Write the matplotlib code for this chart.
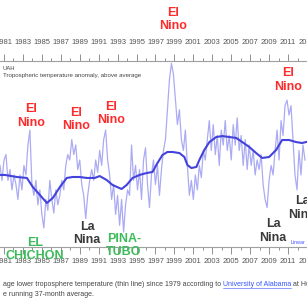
import numpy as np
import matplotlib
matplotlib.use("Agg")
import matplotlib.pyplot as plt

W, H = 307, 302

t_start = 1980.58
t_step = 0.2105
monthly = [
    -0.04, -0.15, 0.00, 0.04, -0.15, -0.07, -0.22, -0.11, -0.18, -0.29,
    -0.11, -0.22, -0.04, -0.11, 0.11, 0.22, -0.18, -0.26, -0.15, -0.33,
    -0.22, -0.40, -0.50, -0.29, -0.37, -0.15, -0.29, -0.39, -0.22, -0.33,
    -0.26, -0.15, -0.22, -0.04, 0.04, 0.00, 0.15, 0.04, 0.11, -0.07,
    0.00, -0.18, -0.26, -0.43, -0.26, -0.15, -0.07, -0.15, 0.00, -0.09,
    0.07, -0.04, 0.15, 0.22, 0.00, -0.11, -0.29, -0.18, -0.40, -0.26,
    -0.48, -0.29, -0.53, -0.33, -0.22, -0.26, 0.11, -0.15, -0.04, -0.22,
    -0.07, -0.29, 0.00, 0.09, -0.18, -0.35, -0.11, 0.00, -0.18, -0.04,
    -0.26, -0.07, 0.07, 0.15, 0.37, 0.59, 0.71, 0.63, 0.44, 0.26,
    0.37, 0.15, 0.07, 0.22, -0.04, -0.26, -0.15, -0.29, -0.11, -0.22,
    -0.04, -0.13, 0.07, 0.00, 0.15, 0.29, 0.07, 0.26, 0.04, 0.18,
    -0.04, 0.22, 0.11, 0.29, 0.07, 0.18, 0.00, 0.26, 0.11, 0.31,
    0.07, 0.18, -0.04, 0.15, -0.07, 0.11, -0.04, 0.07, -0.11, 0.00,
    -0.07, 0.04, -0.18, -0.29, -0.35, -0.15, -0.04, -0.11, 0.07, 0.22,
    0.00, 0.29, 0.18, 0.40, 0.44, 0.33, 0.40, 0.15, -0.11, -0.22,
    0.07, -0.11, 0.11, 0.00,
]
monthly_years = t_start + t_step * np.arange(len(monthly))

# running 37-month average
smooth_years = [1980.58, 1981.11, 1982.37, 1983.42, 1984.05, 1984.79, 1985.53, 1986.16,
                1986.90, 1987.63, 1988.26, 1989.00, 1989.74, 1990.58, 1991.11, 1991.84,
                1992.47, 1993.42, 1993.95, 1994.58, 1995.32, 1996.05, 1996.69, 1997.21,
                1997.74, 1998.26, 1998.79, 1999.53, 2000.05, 2000.37, 2000.79, 2001.32,
                2001.63, 2002.16, 2002.69, 2003.42, 2004.05, 2004.79, 2005.53, 2006.16,
                2006.90, 2007.63, 2008.26, 2009.00, 2009.74, 2010.37, 2011.11, 2011.84,
                2012.47, 2012.90]
smooth = [-0.11, -0.11, -0.125, -0.132, -0.199, -0.257, -0.316, -0.279,
          -0.199, -0.132, -0.125, -0.125, -0.132, -0.132, -0.118, -0.147,
          -0.184, -0.213, -0.184, -0.132, -0.110, -0.096, -0.088, -0.022,
          0.037, 0.059, 0.059, 0.051, 0.022, -0.037, -0.059, -0.051,
          0.000, 0.074, 0.132, 0.169, 0.176, 0.169, 0.162, 0.132,
          0.096, 0.051, 0.015, 0.022, 0.074, 0.147, 0.147, 0.132,
          0.125, 0.132]

label_years = list(range(1981, 2014, 2))
minor_years = list(range(1982, 2014, 2))

# event labels: text, colour, x px, y px (centre)
events = [
    ("El\nNino", "#ff2b2b", 173, 19.5),
    ("El\nNino", "#ff2b2b", 31, 116),
    ("El\nNino", "#ff2b2b", 76, 119.5),
    ("El\nNino", "#ff2b2b", 111, 113.5),
    ("El\nNino", "#ff2b2b", 288, 80),
    ("La\nNina", "#3a3a3a", 87, 233.5),
    ("La\nNina", "#3a3a3a", 273, 231),
    ("La\nNina", "#3a3a3a", 302, 208),
    ("EL\nCHICHON", "#3cbb5a", 35, 249.5),
    ("PINA-\nTUBO", "#3cbb5a", 124, 245.5),
]

fig = plt.figure(figsize=(W / 100, H / 100), dpi=100, facecolor="white")
ax_top, ax_bot = 61, 247
ax = fig.add_axes([0, 1 - ax_bot / H, 1, (ax_bot - ax_top) / H])
ax.set_xlim(1980.58, 1980.58 + W / 9.5)
ax.set_ylim((160 - ax_bot) / 136, (160 - ax_top) / 136)

ax.plot(monthly_years, monthly, color="#9696f2", lw=0.9, alpha=0.8, zorder=2)
ax.plot(smooth_years, smooth, color="#4343dc", lw=1.5, zorder=3)

for s in ["left", "right", "top"]:
    ax.spines[s].set_visible(False)
ax.spines["bottom"].set_color("#a0a0a0")
ax.spines["bottom"].set_linewidth(0.8)
ax.set_yticks([])

tick_font = dict(family="Liberation Sans", size=5.5)
ax.set_xticks(label_years)
ax.set_xticks(minor_years, minor=True)
ax.set_xticklabels([str(y) for y in label_years], fontdict=tick_font, color="#555555")
ax.tick_params(axis="x", which="major", length=5, width=0.7, color="#909090", pad=3)
ax.tick_params(axis="x", which="minor", length=2.5, width=0.7, color="#909090")

secax = ax.secondary_xaxis("top")
secax.set_xticks(label_years)
secax.set_xticks(minor_years, minor=True)
secax.set_xticklabels([str(y) for y in label_years], fontdict=tick_font, color="#555555")
secax.tick_params(axis="x", which="major", length=5, width=0.7, color="#909090", pad=5.5)
secax.tick_params(axis="x", which="minor", length=2.5, width=0.7, color="#909090")
secax.spines["top"].set_color("#a0a0a0")
secax.spines["top"].set_linewidth(0.8)

for txt, col, x, y in events:
    fig.text(x / W, 1 - y / H, txt, color=col, fontsize=9, fontweight="bold",
             family="Liberation Sans", ha="center", va="center",
             multialignment="center", linespacing=1.15, zorder=5)

small = dict(family="Liberation Sans", color="#444444")
fig.text(3 / W, 1 - 68 / H, "UAH", fontsize=4.2, va="center", **small)
fig.text(3 / W, 1 - 75 / H, "Tropospheric temperature anomaly, above average",
         fontsize=4.4, va="center", **small)
fig.text(291 / W, 1 - 243 / H, "Linear", fontsize=3.8, va="center",
         family="Liberation Sans", color="#4455ff")

# caption below the chart
r = fig.canvas.get_renderer()
cap_y = 1 - 284 / H
t1 = fig.text(3 / W, cap_y, "age lower troposphere temperature (thin line) since 1979 according to",
              fontsize=5.0, va="center", **small)
x1 = t1.get_window_extent(r).x1 + 2
t2 = fig.text(x1 / W, cap_y, "University of Alabama", fontsize=5.0, va="center",
              family="Liberation Sans", color="#3355ff")
bb2 = t2.get_window_extent(r)
fig.add_artist(plt.Line2D([bb2.x0 / W, bb2.x1 / W], [bb2.y0 / H, bb2.y0 / H],
                          color="#3355ff", lw=0.4))
fig.text((bb2.x1 + 2) / W, cap_y, "at Huntsville", fontsize=5.0, va="center", **small)
fig.text(3 / W, 1 - 294 / H, "e running 37-month average.", fontsize=5.0, va="center", **small)

fig.savefig("out.png", dpi=100, facecolor="white")
